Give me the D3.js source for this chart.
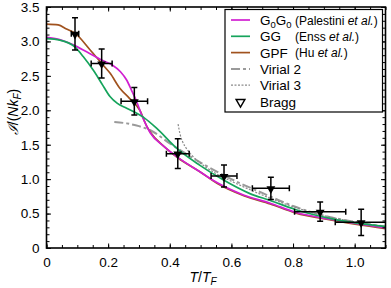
<!DOCTYPE html>
<html>
<head>
<meta charset="utf-8">
<script src="https://cdn.jsdelivr.net/npm/d3@7"></script>
<style>
body { margin: 0; background: #fff; }
svg { display: block; font-family: "Liberation Sans", Arial, sans-serif; }
</style>
</head>
<body>
<svg width="391" height="288"></svg>
<script>
// curves, [T/T_F, I/(N kF)]
var g0g0 = [[0,3.06],[0.04,3.03],[0.087,2.95],[0.13,2.85],[0.179,2.73],[0.212,2.66],[0.24,2.56],[0.26,2.44],[0.276,2.29],[0.293,2.12],[0.309,1.93],[0.325,1.77],[0.337,1.67],[0.38,1.48],[0.426,1.316],[0.498,1.107],[0.553,0.95],[0.639,0.77],[0.726,0.65],[0.807,0.52],[0.931,0.41],[1.1,0.29]];
var gg = [[0,3.04],[0.043,3.02],[0.092,2.92],[0.119,2.78],[0.152,2.58],[0.179,2.39],[0.206,2.2],[0.23,2.1],[0.26,2.03],[0.314,1.9],[0.357,1.74],[0.422,1.45],[0.498,1.2],[0.573,0.99],[0.66,0.79],[0.726,0.69],[0.807,0.56],[0.931,0.42],[1.1,0.31]];
var gpf = [[0,3.25],[0.038,3.24],[0.065,3.18],[0.092,3.12],[0.141,2.88],[0.179,2.68],[0.206,2.54],[0.238,2.32],[0.27,2.17],[0.303,2.0],[0.325,1.77],[0.337,1.68],[0.38,1.48],[0.426,1.31],[0.5,1.1],[0.553,0.94],[0.64,0.76],[0.726,0.64],[0.807,0.51],[0.931,0.4],[1.1,0.28]];
var virial2 = [[0.22,1.83],[0.26,1.81],[0.3,1.77],[0.337,1.71],[0.4,1.52],[0.5,1.24],[0.6,1.0],[0.7,0.8],[0.8,0.61],[0.9,0.47],[1.0,0.38],[1.1,0.31]];
var virial3 = [[0.427,1.8],[0.433,1.66],[0.442,1.54],[0.455,1.44],[0.475,1.33],[0.5,1.23],[0.55,1.08],[0.6,0.97],[0.7,0.77],[0.8,0.6],[0.9,0.47],[1.0,0.38],[1.1,0.31]];

// Bragg points
var braggT = [0.0925,0.179,0.285,0.426,0.576,0.728,0.888,1.021];
var braggI = [3.11,2.68,2.13,1.37,1.045,0.866,0.527,0.373];
var braggTerr = [0.012,0.034,0.043,0.037,0.042,0.06,0.083,0.084];
var braggIerr = [0.235,0.21,0.2,0.215,0.16,0.16,0.14,0.19];

var xTicks = [0,0.2,0.4,0.6,0.8,1.0];
var yTicks = [0,0.5,1.0,1.5,2.0,2.5,3.0,3.5];

var svg = d3.select("svg");
var pLeft = 46.5, pRight = 385.5, pTop = 7, pBottom = 248;

var x = d3.scaleLinear().domain([0,1.1]).range([pLeft,pRight]);
var y = d3.scaleLinear().domain([0,3.5]).range([pBottom,pTop]);

var fmt = function(d) { return d === 0 ? "0" : d3.format(".1f")(d); };

svg.append("clipPath").attr("id","clip")
	.append("rect").attr("x",pLeft).attr("y",pTop).attr("width",pRight-pLeft).attr("height",pBottom-pTop);

var plot = svg.append("g").attr("clip-path","url(#clip)");

var line = d3.line()
	.x(function(d){ return x(d[0]); })
	.y(function(d){ return y(d[1]); })
	.curve(d3.curveMonotoneX);

//series, drawn bottom to top
var series = [
	{data: virial2, color: "#9a9a9a", width: 2, dash: "9,3,3,3"},
	{data: virial3, color: "#8a8a8a", width: 1.2, dash: "2,1.5"},
	{data: gpf, color: "#a0521e", width: 1.7, dash: null},
	{data: g0g0, color: "#d11fd1", width: 1.7, dash: null},
	{data: gg, color: "#16a45c", width: 1.7, dash: null}
];
series.forEach(function(s) {
	plot.append("path")
		.attr("d", line(s.data))
		.attr("fill","none")
		.attr("stroke", s.color)
		.attr("stroke-width", s.width)
		.attr("stroke-dasharray", s.dash);
});

//error bars
var cap = 3;
for (var i = 0; i < braggT.length; i++)
{
	var cx = x(braggT[i]), cy = y(braggI[i]);
	var g = plot.append("g").attr("stroke","#000").attr("stroke-width",1.5);
	var y1 = y(braggI[i] + braggIerr[i]), y2 = y(braggI[i] - braggIerr[i]);
	var x1 = x(braggT[i] - braggTerr[i]), x2 = x(braggT[i] + braggTerr[i]);
	g.append("line").attr("x1",cx).attr("x2",cx).attr("y1",y1).attr("y2",y2);
	g.append("line").attr("x1",cx-cap).attr("x2",cx+cap).attr("y1",y1).attr("y2",y1);
	g.append("line").attr("x1",cx-cap).attr("x2",cx+cap).attr("y1",y2).attr("y2",y2);
	g.append("line").attr("x1",x1).attr("x2",x2).attr("y1",cy).attr("y2",cy);
	g.append("line").attr("x1",x1).attr("x2",x1).attr("y1",cy-cap).attr("y2",cy+cap);
	g.append("line").attr("x1",x2).attr("x2",x2).attr("y1",cy-cap).attr("y2",cy+cap);
	plot.append("path")
		.attr("d", d3.symbol(d3.symbolTriangle, 34)())
		.attr("transform","translate(" + cx + "," + (cy+0.5) + ") rotate(180)")
		.attr("fill","#000");
}

//axes, ticks inward on all four sides
var xMinor = d3.range(0, 1.1001, 0.05), yMinor = d3.range(0, 3.5001, 0.1);
function noLabel() { return ""; }

svg.append("g").attr("transform","translate(0," + pBottom + ")")
	.call(d3.axisBottom(x).tickValues(xMinor).tickSize(-3).tickFormat(noLabel));
svg.append("g").attr("transform","translate(0," + pBottom + ")")
	.call(d3.axisBottom(x).tickValues(xTicks).tickSize(-4.5).tickPadding(9).tickFormat(fmt));
svg.append("g").attr("transform","translate(0," + pTop + ")")
	.call(d3.axisTop(x).tickValues(xMinor).tickSize(-3).tickFormat(noLabel));
svg.append("g").attr("transform","translate(0," + pTop + ")")
	.call(d3.axisTop(x).tickValues(xTicks).tickSize(-4.5).tickFormat(noLabel));
svg.append("g").attr("transform","translate(" + pLeft + ",0)")
	.call(d3.axisLeft(y).tickValues(yMinor).tickSize(-3).tickFormat(noLabel));
svg.append("g").attr("transform","translate(" + pLeft + ",0)")
	.call(d3.axisLeft(y).tickValues(yTicks).tickSize(-4.5).tickPadding(7).tickFormat(fmt));
svg.append("g").attr("transform","translate(" + pRight + ",0)")
	.call(d3.axisRight(y).tickValues(yMinor).tickSize(-3).tickFormat(noLabel));
svg.append("g").attr("transform","translate(" + pRight + ",0)")
	.call(d3.axisRight(y).tickValues(yTicks).tickSize(-4.5).tickFormat(noLabel));

svg.selectAll(".domain").remove();
svg.selectAll(".tick line").attr("stroke","#000").attr("stroke-width",1);
svg.selectAll(".tick text").attr("font-size","13.5px").attr("fill","#000")
	.attr("font-family","Liberation Sans, Arial, sans-serif");

svg.append("rect")
	.attr("x",pLeft).attr("y",pTop).attr("width",pRight-pLeft).attr("height",pBottom-pTop)
	.attr("fill","none").attr("stroke","#000").attr("stroke-width",1.6);

//axis titles
var xt = svg.append("text").attr("x",203).attr("y",282).attr("text-anchor","middle")
	.attr("font-size","14px").attr("font-style","italic");
xt.append("tspan").text("T");
xt.append("tspan").attr("font-style","normal").text("/");
xt.append("tspan").text("T");
xt.append("tspan").attr("font-size","10px").attr("dy",3).text("F");

var yt = svg.append("text").attr("transform","translate(18,112) rotate(-90)")
	.attr("text-anchor","middle").attr("font-size","14px");
yt.append("tspan").attr("font-family","DejaVu Serif, serif").attr("font-style","italic").text("\u2110");
yt.append("tspan").text("/(");
yt.append("tspan").attr("font-style","italic").text("Nk");
yt.append("tspan").attr("font-style","italic").attr("font-size","10px").attr("dy",3).text("F");
yt.append("tspan").attr("dy",-3).text(")");

//legend
var lg = svg.append("g");
lg.append("rect").attr("x",225).attr("y",9.5).attr("width",157.5).attr("height",102.5)
	.attr("fill","#fff").attr("stroke","#000").attr("stroke-width",1.2);

var legendRows = [
	{main: ["G","0","G","0"], note: ["(Palestini ","et al.",")"], s: series[3]},
	{main: ["GG"], note: ["(Enss ","et al.",")"], s: series[4]},
	{main: ["GPF"], note: ["(Hu ","et al.",")"], s: series[2]},
	{main: ["Virial 2"], note: null, s: series[0]},
	{main: ["Virial 3"], note: null, s: series[1]},
	{main: ["Bragg"], note: null, s: null}
];
legendRows.forEach(function(r, k) {
	var ly = 20 + k * 16.3;
	if (r.s) {
		lg.append("line").attr("x1",231).attr("x2",250).attr("y1",ly).attr("y2",ly)
			.attr("stroke", r.s.color).attr("stroke-width", r.s.width)
			.attr("stroke-dasharray", r.s.dash);
	} else {
		lg.append("path").attr("d", d3.symbol(d3.symbolTriangle, 34)())
			.attr("transform","translate(240.5," + (ly+0.5) + ") rotate(180)")
			.attr("fill","#fff").attr("stroke","#000").attr("stroke-width",1.4);
	}
	var t = lg.append("text").attr("x",260).attr("y",ly+5).attr("font-size","13.5px");
	if (r.main.length > 1) {
		t.append("tspan").text(r.main[0]);
		t.append("tspan").attr("font-size","9.5px").attr("dy",3).text(r.main[1]);
		t.append("tspan").attr("dy",-3).text(r.main[2]);
		t.append("tspan").attr("font-size","9.5px").attr("dy",3).text(r.main[3]);
	} else {
		t.text(r.main[0]);
	}
	if (r.note) {
		var n = lg.append("text").attr("x",295).attr("y",ly+4.5).attr("font-size","12px");
		n.append("tspan").text(r.note[0]);
		n.append("tspan").attr("font-style","italic").text(r.note[1]);
		n.append("tspan").text(r.note[2]);
	}
});
</script>
</body>
</html>
